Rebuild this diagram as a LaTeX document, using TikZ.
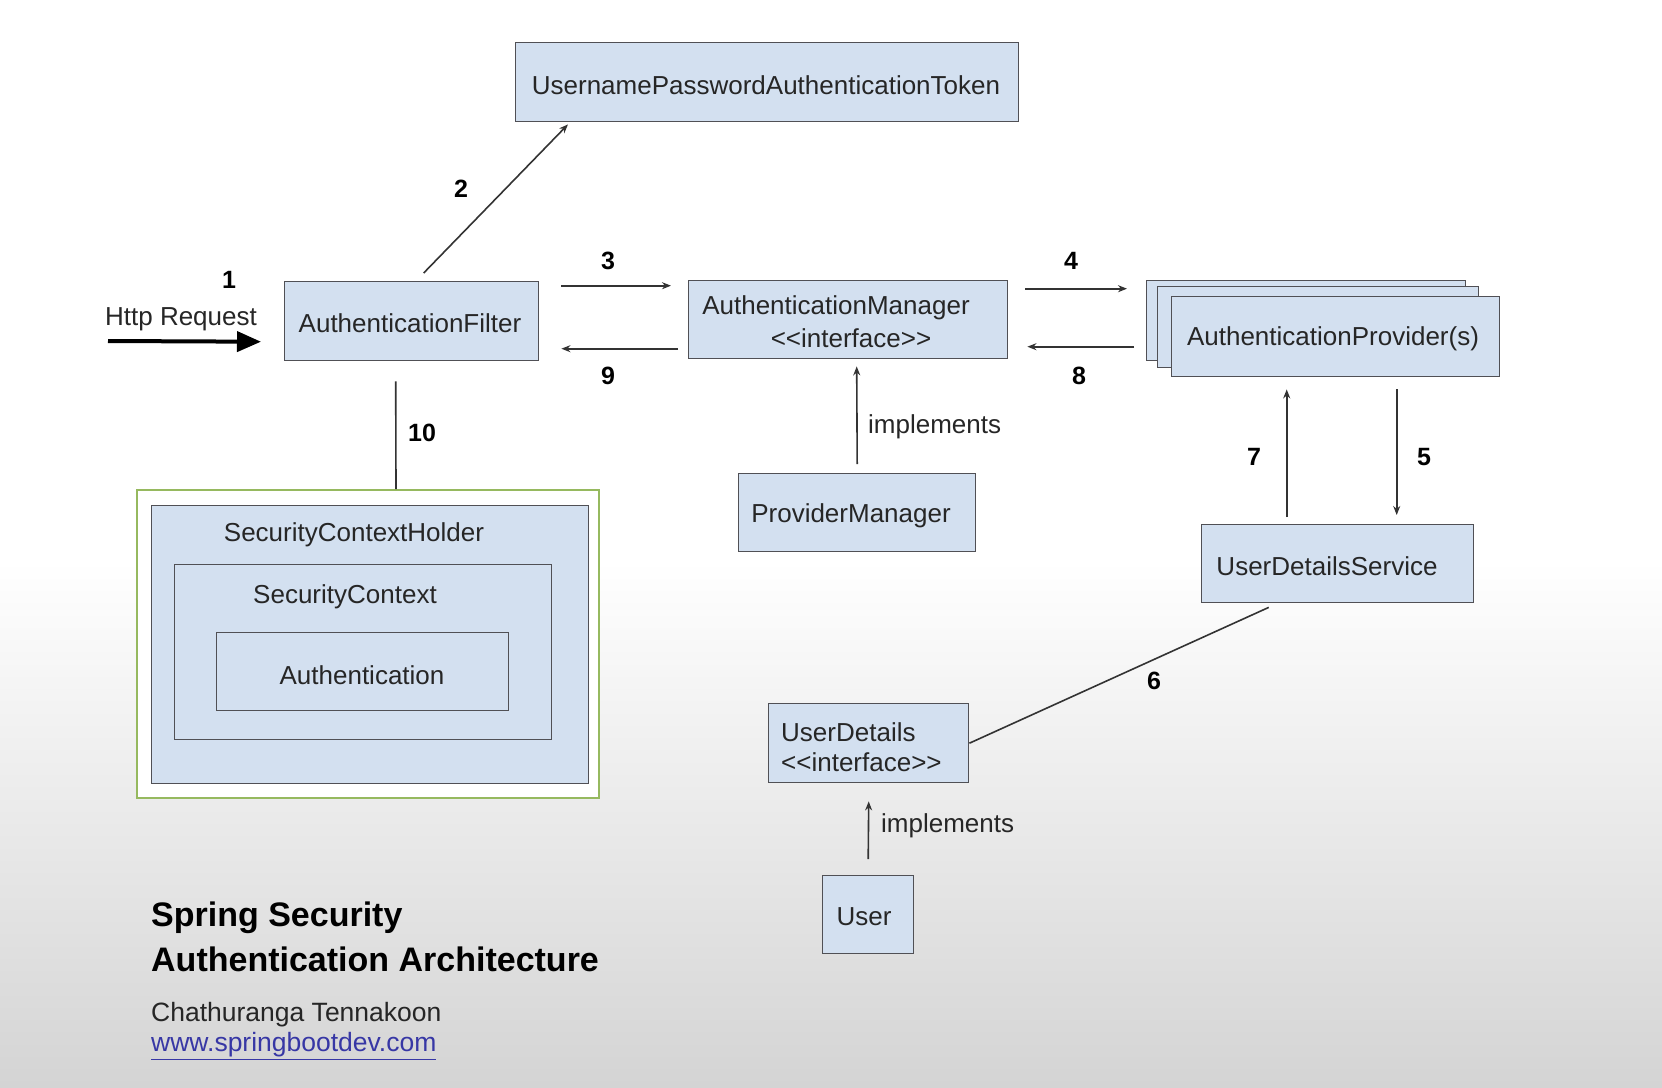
\documentclass[tikz,border=0pt]{standalone}
\usepackage{fontspec}
\setmainfont{Liberation Sans}
\usetikzlibrary{arrows.meta,calc}
\definecolor{boxfill}{RGB}{211,224,240}
\definecolor{boxline}{RGB}{80,80,85}
\definecolor{holdergreen}{RGB}{150,185,95}
\definecolor{linkblue}{RGB}{55,55,165}
\definecolor{bggray}{RGB}{212,212,212}
\newcommand\ifcword{<\kern0pt<interface>\kern0pt>}
\begin{document}
\begin{tikzpicture}[x=1pt,y=-1pt,
  every node/.style={font=\fontsize{26}{31}\selectfont, text=black!85},
  ubox/.style={draw=boxline, fill=boxfill, line width=1.4pt, inner sep=0pt, anchor=north west},
  plain/.style={inner sep=0pt, yshift=-3pt},
  num/.style={inner sep=0pt, yshift=-2pt, font=\fontsize{25}{30}\selectfont\bfseries, text=black},
  conn/.style={line width=1.6pt, draw=black!80},
  arr/.style={conn, -{Stealth[length=9pt,width=7pt]}},
  bigarr/.style={line width=4pt, draw=black, -{Triangle[length=24pt,width=20pt]}}
]
\useasboundingbox (0,0) rectangle (1662,1087);
\fill[white] (0,0) rectangle (1662,1087);
\shade[top color=white, bottom color=bggray] (0,560) rectangle (1662,1087);

% boxes
\node[ubox, minimum width=503, minimum height=79] (token) at (515,42) {};
\node[plain] (tokentxt) at (766,82) {UsernamePasswordAuthenticationToken};

\node[ubox, minimum width=254, minimum height=79] (filter) at (284,281) {};
\node[plain] (filtertxt) at (410,320) {AuthenticationFilter};

\node[ubox, minimum width=319, minimum height=78] (manager) at (688,280) {};
\node[plain] (managertxt1) at (836,305) {AuthenticationManager};
\node[plain] (managertxt2) at (851,335) {\ifcword};

\node[ubox, minimum width=319, minimum height=80] (provb) at (1146,280) {};
\node[ubox, minimum width=321, minimum height=81] (provm) at (1157,286) {};
\node[ubox, minimum width=328, minimum height=80] (provf) at (1171,296) {};
\node[plain] (provtxt) at (1333,336) {AuthenticationProvider(s)};

\node[ubox, minimum width=237, minimum height=78] (provmgr) at (738,473) {};
\node[plain] (provmgrtxt) at (851,513) {ProviderManager};

\node[ubox, minimum width=272, minimum height=78] (uds) at (1201,524) {};
\node[plain] (udstxt) at (1327,563) {UserDetailsService};

\node[ubox, minimum width=200, minimum height=79] (ud) at (768,703) {};
\node[plain, anchor=west] (udtxt1) at (781,729) {UserDetails};
\node[plain, anchor=west] (udtxt2) at (781,759) {\ifcword};

\node[ubox, minimum width=91, minimum height=78] (user) at (822,875) {};
\node[plain] (usertxt) at (864,914) {User};

% security context holder group
\node[draw=holdergreen, line width=2pt, fill=white, inner sep=0pt, anchor=north west,
      minimum width=462, minimum height=308] (holderframe) at (136,489) {};
\node[ubox, minimum width=437, minimum height=278] (holder) at (151,505) {};
\node[plain] (holdertxt) at (354,532) {SecurityContextHolder};
\node[ubox, minimum width=377, minimum height=175] (context) at (174,564) {};
\node[plain] (contexttxt) at (345,594) {SecurityContext};
\node[ubox, minimum width=292, minimum height=78] (auth) at (216,632) {};
\node[plain] (authtxt) at (362,672) {Authentication};

% labels
\node[plain] (httptxt) at (181,316) {Http Request};
\node[num] (n1) at (229,278) {1};
\node[num] (n2) at (461,187) {2};
\node[num] (n3) at (608,259) {3};
\node[num] (n9) at (608,374) {9};
\node[num] (n4) at (1071,259) {4};
\node[num] (n8) at (1079,374) {8};
\node[num] (n10) at (422,431) {10};
\node[num] (n7) at (1254,455) {7};
\node[num] (n5) at (1424,455) {5};
\node[num] (n6) at (1154,679) {6};
\node[plain, anchor=west] (impl1) at (868,424) {implements};
\node[plain, anchor=west] (impl2) at (881,823) {implements};

% connectors
\coordinate (httpstart) at (108,341);
\draw[bigarr] (httpstart) -- ([shift={(-23,20.5)}]filter.west);
\draw[arr] ([shift={(12,-8)}]filter.north) -- ([shift={(53,2)}]token.south west);
\draw[arr] ([shift={(22,-35.5)}]filter.east) -- ([shift={(-17,-34)}]manager.west);
\draw[arr] ([shift={(-10,29)}]manager.west) -- ([shift={(22,27.5)}]filter.east);
\draw[arr] ([shift={(17,-31)}]manager.east) -- ([shift={(-19,-32)}]provb.west);
\draw[arr] ([shift={(-12,26)}]provb.west) -- ([shift={(19,27)}]manager.east);
\draw[arr] ([shift={(0,-9)}]provmgr.north) -- ([shift={(8.5,7)}]manager.south);
\draw[conn] ([shift={(-16,20)}]filter.south) -- ([shift={(28,0)}]holderframe.north);
\draw[arr] ([shift={(-51,-7)}]uds.north) -- ([shift={(-49,12)}]provf.south);
\draw[arr] ([shift={(61,12)}]provf.south) -- ([shift={(59,-9)}]uds.north);
\draw[conn] ([shift={(-69,4)}]uds.south) -- (ud.east);
\draw[arr] ([shift={(0,-16)}]user.north) -- ([shift={(0,18)}]ud.south);

% title block
\node[plain, anchor=west, font=\fontsize{34}{40}\selectfont\bfseries, text=black] (title1) at (151,915) {Spring Security};
\node[plain, anchor=west, font=\fontsize{34}{40}\selectfont\bfseries, text=black] (title2) at (151,956) {Authentication Architecture};
\node[plain, anchor=west, font=\fontsize{26.5}{31}\selectfont] (author) at (151,1012) {Chathuranga Tennakoon};
\node[plain, anchor=west, font=\fontsize{26.5}{31}\selectfont, text=linkblue] (site) at (151,1043) {\underline{www.springbootdev.com}};
\end{tikzpicture}
\end{document}
